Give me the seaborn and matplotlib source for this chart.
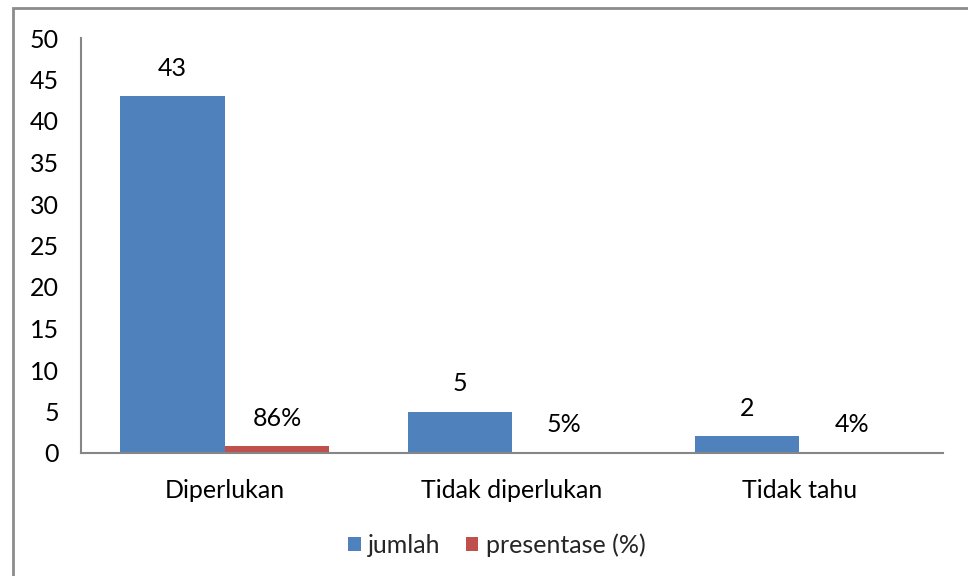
import matplotlib
matplotlib.use("Agg")
import matplotlib.pyplot as plt
from matplotlib.patches import Rectangle
import seaborn as sns
import pandas as pd

# Survey results
categories = ["Diperlukan", "Tidak diperlukan", "Tidak tahu"]
jumlah = [43, 5, 2]
presentase = [0.86, 0.05, 0.04]
series_names = ["jumlah", "presentase (%)"]
y_ticks = [0, 5, 10, 15, 20, 25, 30, 35, 40, 45, 50]

colors = ["#4F81BD", "#C0504D"]
axis_grey = "#868686"
FS = 18

sns.set_theme(style="white")
plt.rcParams["font.family"] = ["Lato", "DejaVu Sans"]

df = pd.DataFrame({
    "kategori": categories * 2,
    "seri": [series_names[0]] * len(categories) + [series_names[1]] * len(categories),
    "nilai": jumlah + presentase,
})

fig = plt.figure(figsize=(9.68, 5.76), dpi=100)
ax = fig.add_axes([81 / 968, 1 - 453 / 576, (943 - 81) / 968, (453 - 38) / 576])

sns.barplot(data=df, x="kategori", y="nilai", hue="seri", order=categories,
            hue_order=series_names, palette=colors, width=0.727, gap=0,
            saturation=1, ax=ax, legend=True)

for patch in ax.patches:
    patch.set_edgecolor("none")

# Value labels above each bar
fmts = [lambda v: f"{v:g}", lambda v: f"{v * 100:.0f}%"]
for container, vals, fmt in zip(ax.containers, [jumlah, presentase], fmts):
    for bar, v in zip(container, vals):
        ax.annotate(fmt(v), (bar.get_x() + bar.get_width() / 2, bar.get_height()),
                    xytext=(0, 20), textcoords="offset points",
                    ha="center", va="center", fontsize=FS, color="black")

ax.set_xlim(-0.5, 2.5)
ax.set_ylim(0, 50)
ax.set_yticks(y_ticks)
ax.set_xlabel("")
ax.set_ylabel("")
ax.tick_params(axis="both", length=0, labelsize=FS, colors="black")
ax.tick_params(axis="x", pad=19)
ax.tick_params(axis="y", pad=16)

for side in ["top", "right"]:
    ax.spines[side].set_visible(False)
for side in ["left", "bottom"]:
    ax.spines[side].set_color(axis_grey)
    ax.spines[side].set_linewidth(1.5)

leg = ax.get_legend()
handles, labels = ax.get_legend_handles_labels()
leg.remove()
fig.legend(handles, labels, loc="center", bbox_to_anchor=(497 / 968, 1 - 545 / 576),
           ncol=2, frameon=False, fontsize=FS, handlelength=0.5, handleheight=0.5,
           handletextpad=0.3, columnspacing=1.0)

# Outer chart border
fig.patches.append(Rectangle((12.5 / 968, -0.1), 1.2, 0.1 + (1 - 7.5 / 576),
                             transform=fig.transFigure, fill=False,
                             edgecolor="#8C8C8C", linewidth=2))

fig.savefig("out.png", dpi=100, facecolor="white")
